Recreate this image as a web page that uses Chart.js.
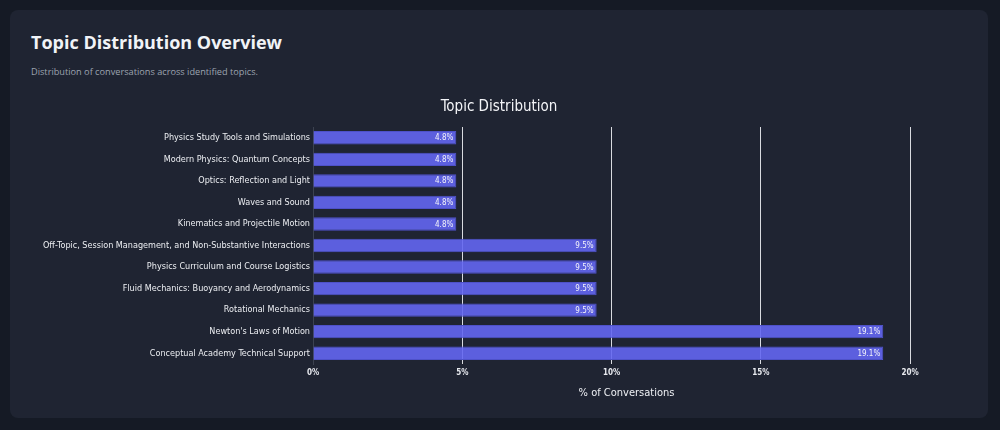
<!DOCTYPE html>
<html>
<head>
<meta charset="utf-8">
<script src="https://cdn.jsdelivr.net/npm/chart.js@4.4.1/dist/chart.umd.min.js"></script>
<style>
  html, body { margin: 0; padding: 0; background: #151a25; width: 1000px; height: 430px; overflow: hidden; }
  .card { position: absolute; left: 10px; top: 10px; width: 978px; height: 408px; background: #1f2432; border-radius: 8px; }
  h1 { position: absolute; left: 21px; top: 20px; margin: 0; font-family: "Open Sans", "Noto Sans", sans-serif; font-weight: 700; font-size: 18px; color: #f1f3f7; }
  p { position: absolute; left: 21px; top: 55px; margin: 0; font-family: "Open Sans", "Noto Sans", sans-serif; font-size: 9.2px; color: #9ca3af; }
  .wrap { position: absolute; left: 0; top: 80px; width: 978px; height: 320px; }
</style>
</head>
<body>
<div class="card">
  <h1>Topic Distribution Overview</h1>
  <p>Distribution of conversations across identified topics.</p>
  <div class="wrap"><canvas id="graficoTemas"></canvas></div>
</div>
<script>
const temas = [
  'Physics Study Tools and Simulations',
  'Modern Physics: Quantum Concepts',
  'Optics: Reflection and Light',
  'Waves and Sound',
  'Kinematics and Projectile Motion',
  'Off-Topic, Session Management, and Non-Substantive Interactions',
  'Physics Curriculum and Course Logistics',
  'Fluid Mechanics: Buoyancy and Aerodynamics',
  'Rotational Mechanics',
  "Newton's Laws of Motion",
  'Conceptual Academy Technical Support'
];
const porcentajes = [4.8, 4.8, 4.8, 4.8, 4.8, 9.5, 9.5, 9.5, 9.5, 19.1, 19.1];
const ticksX = [0, 5, 10, 15, 20];

const fuente = '"DejaVu Sans Condensed", "DejaVu Sans", sans-serif';

// etiquetas de valor dentro del extremo de cada barra
const etiquetas = {
  id: 'etiquetas',
  afterDatasetsDraw(chart) {
    const c = chart.ctx;
    const meta = chart.getDatasetMeta(0);
    c.save();
    c.font = '8px ' + fuente;
    c.fillStyle = '#f4f4fb';
    c.textAlign = 'right';
    c.textBaseline = 'middle';
    meta.data.forEach((bar, i) => {
      c.fillText(porcentajes[i].toFixed(1) + '%', bar.x - 3, bar.y + 0.5);
    });
    c.restore();
  }
};

new Chart(document.getElementById('graficoTemas'), {
  type: 'bar',
  data: {
    labels: temas,
    datasets: [{
      data: porcentajes,
      backgroundColor: 'rgba(99, 102, 241, 0.9)',
      borderColor: '#4e51c9',
      borderWidth: 1,
      barPercentage: 0.62,
      categoryPercentage: 1
    }]
  },
  options: {
    indexAxis: 'y',
    responsive: true,
    maintainAspectRatio: false,
    animation: false,
    layout: { padding: 0 },
    plugins: {
      legend: { display: false },
      tooltip: { enabled: false },
      title: {
        display: true,
        text: 'Topic Distribution',
        color: '#f4f5f8',
        font: { family: fuente, size: 15, weight: 'normal' },
        padding: { top: 8, bottom: 11 }
      }
    },
    scales: {
      x: {
        min: 0,
        max: 21,
        afterFit: s => { s.height = 46; },
        afterBuildTicks: s => { s.ticks = ticksX.map(v => ({ value: v })); },
        grid: {
          color: ctx => ctx.tick && ctx.tick.value === 0 ? 'rgba(0,0,0,0)' : '#d9dbe0',
          drawTicks: false
        },
        border: { display: false },
        ticks: {
          color: '#e8eaef',
          padding: 4,
          font: { family: fuente, size: 8, weight: 'bold' },
          callback: v => v + '%'
        },
        title: {
          display: true,
          text: '% of Conversations',
          color: '#eef0f4',
          font: { family: fuente, size: 11 },
          padding: { top: 0, bottom: 10 }
        }
      },
      y: {
        afterFit: s => { s.width = 303; },
        grid: { display: false, drawTicks: false },
        border: { display: true, color: '#3c4250', width: 1 },
        ticks: {
          color: '#eceef2',
          padding: 3,
          font: { family: fuente, size: 9 }
        }
      },
      // eje vacío a la derecha: solo reserva el margen
      margen: {
        type: 'linear',
        position: 'right',
        afterFit: s => { s.width = 48; },
        grid: { display: false, drawTicks: false },
        border: { display: false },
        ticks: { display: false }
      }
    }
  },
  plugins: [etiquetas]
});
</script>
</body>
</html>
